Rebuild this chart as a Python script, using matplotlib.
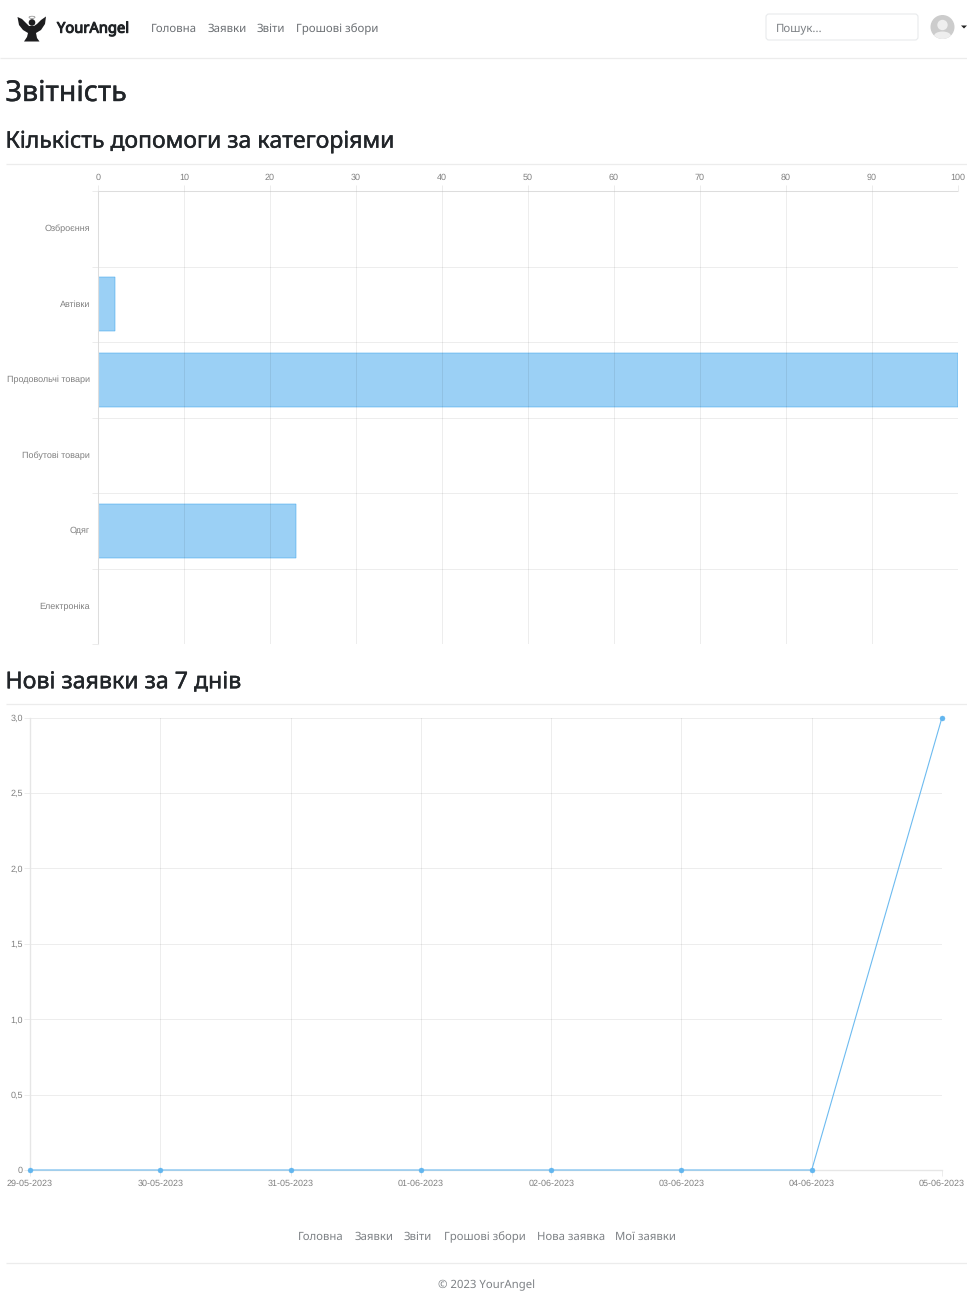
import matplotlib
matplotlib.use("Agg")
import matplotlib.pyplot as plt
import matplotlib.patheffects as pe
from matplotlib.patches import Circle, FancyBboxPatch, Polygon, Ellipse
from matplotlib.transforms import ScaledTranslation

plt.rcParams["text.hinting"] = "no_hinting"

W, H = 967, 1291
categories = ["Озброєння", "Автівки", "Продовольчі товари", "Побутові товари", "Одяг", "Електроніка"]
help_counts = [0, 2, 100, 0, 23, 0]
dates = ["29-05-2023", "30-05-2023", "31-05-2023", "01-06-2023",
         "02-06-2023", "03-06-2023", "04-06-2023", "05-06-2023"]
new_requests = [0, 0, 0, 0, 0, 0, 0, 3]
y_ticks = [0, 0.5, 1, 1.5, 2, 2.5, 3]
x_ticks = list(range(0, 101, 10))
nav_items = [("Головна", 151), ("Заявки", 208), ("Звіти", 257), ("Грошові збори", 296)]
foot_items = [("Головна", 298), ("Заявки", 355), ("Звіти", 404), ("Грошові збори", 444),
              ("Нова заявка", 537), ("Мої заявки", 615)]

UI = "Noto Sans"
TICKF = "Liberation Sans"
GRID_ALPHA = 0.07
TICK_COLOR = "#ececec"
AXISC1 = "#eeeeee"
AXISC2 = "#e6e6e6"
TICKC = "#808080"
DARK = "#212529"
NAV = "#6b6f73"
FOOT = "#7d8185"
BLUE = "#36A2EB"
LINEC = "#6dbbf0"
BLUEFILL = "#9BD0F5"


def rect(l, t, r, b):
    return [l / W, 1 - b / H, (r - l) / W, (b - t) / H]


def heavy(txt, w):
    txt.set_path_effects([pe.withStroke(linewidth=w, foreground=txt.get_color())])


fig = plt.figure(figsize=(W / 100, H / 100), dpi=100, facecolor="white")

bg = fig.add_axes([0, 0, 1, 1], zorder=0)
bg.set_xlim(0, W)
bg.set_ylim(H, 0)
bg.axis("off")

for y, l in [(57.5, 0), (164, 6), (704, 6), (1263, 6)]:
    bg.plot([l, W], [y, y], color="#ececec", lw=0.9, solid_capstyle="butt")

# logo
bg.add_patch(Polygon([(17.5, 17), (22, 19), (27, 24), (29, 26), (34, 26), (37, 24), (41, 20),
                      (46, 16.5), (45, 24), (41, 30), (36, 33), (37, 38), (39.5, 41.5),
                      (24, 41.5), (27, 37), (28, 33), (23, 30), (19, 25)],
                     closed=True, facecolor="#1d1d1f", edgecolor="none"))
bg.add_patch(Circle((32, 22.5), 3.3, facecolor="#1d1d1f", edgecolor="none"))
bg.add_patch(Ellipse((32, 17.3), 6, 2.2, facecolor="none", edgecolor="#888888", lw=0.5))

t = bg.text(57, 32.7, "YourAngel", fontsize=10.6, family=UI, color="#1f2225", va="baseline")
heavy(t, 0.75)
for label, x in nav_items:
    bg.text(x, 32, label, fontsize=8.25, family=UI, color=NAV, va="baseline")

# search box and avatar
bg.add_patch(FancyBboxPatch((766, 14), 152, 26, boxstyle="round,pad=0,rounding_size=3",
                            facecolor="white", edgecolor="#e8eaec", lw=0.8))
bg.text(776, 31.4, "Пошук...", fontsize=8.25, family=UI, color="#7d8185", va="baseline")
avatar = Circle((942.5, 27), 12, facecolor="#cccccc", edgecolor="none")
bg.add_patch(avatar)
bg.add_patch(Circle((942.5, 25), 5.2, facecolor="#eeeeee", edgecolor="none"))
shoulders = Ellipse((942.5, 36), 17, 9, facecolor="#eeeeee", edgecolor="none")
bg.add_patch(shoulders)
shoulders.set_clip_path(avatar)
bg.add_patch(Polygon([(961, 25.5), (967, 25.5), (964, 28.5)], closed=True,
                     facecolor="#222222", edgecolor="none"))

# headings
heavy(bg.text(5.5, 101, "Звітність", fontsize=20.6, family=UI, color=DARK, va="baseline"), 0.3)
heavy(bg.text(5.5, 147.7, "Кількість допомоги за категоріями", fontsize=16.55, family=UI, color=DARK,
              va="baseline"), 0.3)
heavy(bg.text(5.5, 688.3, "Нові заявки за 7 днів", fontsize=16.65, family=UI, color=DARK,
              va="baseline"), 0.3)

# footer
for label, x in foot_items:
    bg.text(x, 1240, label, fontsize=8.2, family=UI, color=FOOT, va="baseline")
bg.text(487, 1288, "© 2023 YourAngel", fontsize=8.2, family=UI, color=FOOT, va="baseline", ha="center")

# horizontal bar chart
ax1 = fig.add_axes(rect(98, 191, 958, 644), zorder=1)
ax1.set_facecolor("none")
ypos = list(range(len(categories)))
ax1.barh(ypos, help_counts, height=0.72, color=BLUEFILL, edgecolor=BLUE, linewidth=0.35, zorder=1)
ax1.set_xlim(0, 100)
ax1.set_ylim(len(categories) - 0.5, -0.5)
ax1.xaxis.tick_top()
ax1.set_xticks(x_ticks)
ax1.set_xticklabels([str(v) for v in x_ticks], fontsize=6.5, family=TICKF, color=TICKC)
ax1.set_yticks(ypos)
ax1.set_yticklabels(categories, fontsize=6.5, family=TICKF, color=TICKC)
ax1.set_yticks([p - 0.5 for p in ypos] + [len(categories) - 0.5], minor=True)
ax1.tick_params(axis="x", which="major", length=4.3, width=0.72, color=TICK_COLOR, pad=2.6)
ax1.tick_params(axis="y", which="major", length=0, pad=5.6)
ax1.tick_params(axis="y", which="minor", length=4.3, width=0.72, color=TICK_COLOR)
ax1.grid(True, axis="x", which="major", color="black", alpha=GRID_ALPHA, lw=0.72, zorder=2)
ax1.grid(True, axis="y", which="minor", color="black", alpha=GRID_ALPHA, lw=0.72, zorder=0)
ax1.set_axisbelow(False)
for lab in ax1.get_yticklabels():
    lab.set_transform(lab.get_transform() + ScaledTranslation(0, 0.8 / 100, fig.dpi_scale_trans))
for name, s in ax1.spines.items():
    s.set_visible(name in ("top", "left"))
    s.set_color(AXISC1)
    s.set_linewidth(0.8)

# line chart
ax2 = fig.add_axes(rect(30, 717.5, 942, 1170), zorder=1)
ax2.set_facecolor("none")
xpos = list(range(len(dates)))
ax2.plot(xpos, new_requests, color=LINEC, lw=0.8, marker="o", ms=3.6, mfc="#62b6ef", mec="#62b6ef",
         mew=0.3, clip_on=False, zorder=3)
ax2.set_xlim(0, len(dates) - 1)
ax2.set_ylim(0, 3)
ax2.set_xticks(xpos)
ax2.set_xticklabels(dates, fontsize=6.5, family=TICKF, color=TICKC)
ax2.set_yticks(y_ticks)
ax2.set_yticklabels([("%.1f" % v).replace(".", ",") if v else "0" for v in y_ticks],
                    fontsize=6.5, family=TICKF, color=TICKC)
ax2.tick_params(axis="both", length=4.3, width=0.72, color=TICK_COLOR)
ax2.tick_params(axis="x", pad=2.2)
ax2.tick_params(axis="y", pad=0.7)
ax2.grid(True, color="black", alpha=GRID_ALPHA, lw=0.72, zorder=0)
ax2.set_axisbelow(True)
for name, s in ax2.spines.items():
    s.set_visible(name in ("bottom", "left"))
    s.set_color(AXISC2)
    s.set_linewidth(1.0)

fig.savefig("out.png", dpi=100)
